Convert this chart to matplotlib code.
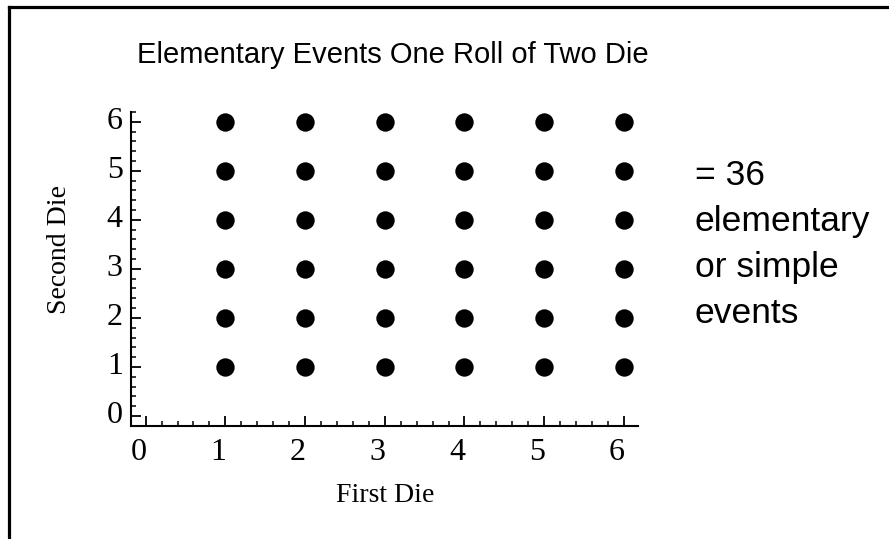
import matplotlib
matplotlib.use("Agg")
import matplotlib.pyplot as plt
import matplotlib.transforms as mtransforms
from matplotlib.lines import Line2D
import numpy as np

# Data
first_die = [1, 2, 3, 4, 5, 6]
second_die = [1, 2, 3, 4, 5, 6]
tick_values = [0, 1, 2, 3, 4, 5, 6]
title_text = "Elementary Events One Roll of Two Die"
note_lines = ["= 36", "elementary", "or simple", "events"]
x_label = "First Die"
y_label = "Second Die"

W, H = 889, 539
fig = plt.figure(figsize=(W / 100, H / 100), dpi=100)

def fx(px):
    return px / W

def fy(py):
    return 1 - py / H

left, right, top, bottom = 131, 638, 111.7, 425.7
ax = fig.add_axes([fx(left), fy(bottom), fx(right) - fx(left), fy(top) - fy(bottom)])

X, Y = np.meshgrid(first_die, second_die)
ax.scatter(X.ravel(), Y.ravel(), s=175, color="black", linewidths=0,
           zorder=3, clip_on=False)

ax.set_xlim(-0.184, 6.177)
ax.set_ylim(-0.198, 6.204)

for s in ["top", "right"]:
    ax.spines[s].set_visible(False)
for s in ["left", "bottom"]:
    ax.spines[s].set_linewidth(1.5)

ax.set_xticks(tick_values)
ax.set_yticks(tick_values)
ax.set_xticks(np.arange(0.2, 6.1, 0.2), minor=True)
ax.set_yticks(np.arange(0.2, 6.25, 0.2), minor=True)
ax.tick_params(which="major", direction="in", length=7, width=1.3, pad=9,
               labelsize=23)
ax.tick_params(which="minor", direction="in", length=3.5, width=1.1)
ax.tick_params(axis="y", which="major", pad=6)
for lab in ax.get_xticklabels() + ax.get_yticklabels():
    lab.set_fontfamily("Liberation Serif")

# shift tick labels slightly, like the reference
offx = mtransforms.ScaledTranslation(-7 / 100, 0, fig.dpi_scale_trans)
for lab in ax.get_xticklabels():
    lab.set_transform(lab.get_transform() + offx)
offy = mtransforms.ScaledTranslation(0, 4 / 100, fig.dpi_scale_trans)
for lab in ax.get_yticklabels():
    lab.set_transform(lab.get_transform() + offy)

fig.text(fx(385.5), fy(495), x_label, ha="center", va="center",
         fontsize=20, family="Liberation Serif")
fig.text(fx(60), fy(249), y_label, ha="center", va="center", rotation=90,
         fontsize=20, family="Liberation Serif")

fig.text(fx(392.5), fy(63), title_text, ha="center", va="baseline",
         fontsize=21, family="Liberation Sans")

for i, line in enumerate(note_lines):
    fig.text(fx(695), fy(185 + 46 * i), line, ha="left", va="baseline",
             fontsize=25.5, family="Liberation Sans")

# partial frame (top and left edges)
fig.add_artist(Line2D([fx(8.5), fx(8.5)], [0, fy(6.5)], color="black", lw=2.3,
                      transform=fig.transFigure))
fig.add_artist(Line2D([fx(8.5), 1], [fy(6.5), fy(6.5)], color="black", lw=2.3,
                      transform=fig.transFigure))

fig.savefig("out.png", dpi=100)
